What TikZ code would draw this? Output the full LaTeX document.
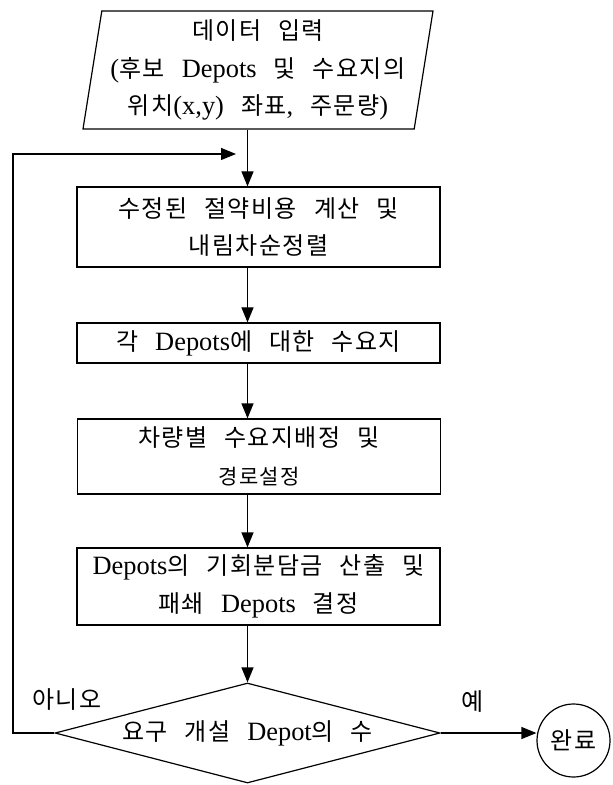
\documentclass[tikz,border=0pt]{standalone}
\usepackage{fontspec}
\setmainfont{Noto Sans CJK KR}[LetterSpace=6,WordSpace=2.5]
\newfontfamily\latinfont{Liberation Serif}[Scale=1.1]
\newcommand\en[1]{{\latinfont #1}}
\usetikzlibrary{shapes.geometric}
\usetikzlibrary{arrows.meta}

\begin{document}
\begin{tikzpicture}
[x=0.5pt,y=-0.5pt,line width=0.6pt,%
  >={Triangle[length=7.5pt,width=6pt]},%
  every node/.style={align=center,inner sep=0pt,font=\fontsize{12}{18.75}\selectfont},%
  stepbox/.style={draw,minimum width=181.5pt},%
  inputbox/.style={draw,trapezium,trapezium left angle=79.4,trapezium right angle=100.6,%
    trapezium stretches body,minimum width=175pt,minimum height=59pt},%
  testbox/.style={draw,diamond,aspect=3.85,minimum width=192.5pt,minimum height=50pt},%
  endbox/.style={draw,circle,minimum size=36.5pt}]
\useasboundingbox (0,0) rectangle (613,785);
\node[inputbox] (in) at (258,70)
  {데이터 입력\\\en{(}후보 \en{Depots} 및 수요지의\\위치\en{(x,y)} 좌표\en{,} 주문량\en{)}};
\node[stepbox,minimum height=40pt] (save) at (258.5,227)
  {수정된 절약비용 계산 및\\내림차순정렬};
\node[stepbox,minimum height=20pt] (assign) at (258.5,343)
  {각 \en{Depots}에 대한 수요지};
\node[stepbox,minimum height=37.5pt] (route) at (259,456.5)
  {차량별 수요지배정 및\\{\fontsize{10.5}{18.75}\selectfont 경로설정}};
\node[stepbox,minimum height=38.5pt] (cost) at (258.5,586.5)
  {\en{Depots}의 기회분담금 산출 및\\패쇄 \en{Depots} 결정};
\node[testbox] (test) at (247.5,733) {요구 개설 \en{Depot}의 수};
\node[endbox] (done) at (573.5,740.5) {완료};
\node (no) at (67,700) {아니오};
\node (yes) at (473,702) {예};
\coordinate (corner) at (13,154);
\coordinate (back) at (236,154);
\draw[->] (in.south -| test.north) -- (save.north -| test.north);
\draw[->] (save.south -| test.north) -- (assign.north -| test.north);
\draw[->] (assign.south -| test.north) -- (route.north -| test.north);
\draw[->] (route.south -| test.north) -- (cost.north -| test.north);
\draw[->] (cost.south -| test.north) -- (test.north);
\draw[->] (test.east) -- (test.east -| done.west);
\draw[->] (test.west) -| (corner) -- (back);
\end{tikzpicture}
\end{document}
